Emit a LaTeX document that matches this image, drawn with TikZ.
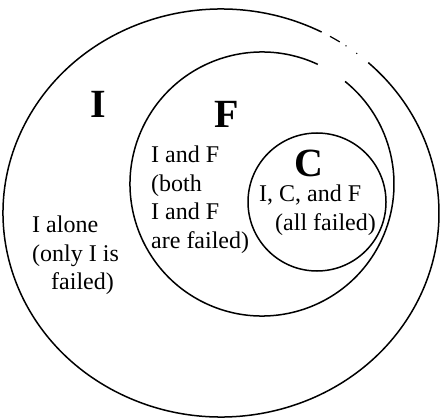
\documentclass[tikz,border=0pt]{standalone}
\usepackage{fontspec}
\setmainfont{Liberation Serif}

\tikzset{
  ring/.style={thick, black, line width=1.5pt},
  setlabel/.style={font=\fontsize{40}{44}\selectfont\bfseries, inner sep=0pt},
  region/.style={font=\fontsize{24}{28.5}\selectfont, align=left, inner sep=0pt, anchor=north west}
}

\begin{document}
\begin{tikzpicture}[x=1pt, y=1pt]
    \useasboundingbox (0,0) rectangle (441,418);

    % outer set I (broken at top right)
    \draw[ring] (221,205) ++(62.5:218 and 204) arc[start angle=62.5, end angle=407.5, x radius=218, y radius=204];
    \draw[black, line width=1.2pt] (221,205) ++(60:218 and 204) arc[start angle=60, end angle=57, x radius=218, y radius=204];
    \fill[black] (221,205) ++(55:218 and 204) circle (0.8pt);
    \fill[black] (221,205) ++(51.5:218 and 204) circle (0.8pt);

    % set F (gap at top right)
    \draw[ring] (262,234) ++(65:132) arc[start angle=65, end angle=411, radius=132];

    % set C
    \draw[ring] (317,216) circle (69);

    \node[setlabel] (labI) at (98,314) {I};
    \node[setlabel] (labF) at (227,304) {F};
    \node[setlabel] (labC) at (309,255) {C};

    \node[region] (onlyI) at (32,202) {I alone\\(only I is\\\hspace*{19pt}failed)};
    \node[region] (IandF) at (151,272) {I and F\\(both\\I and F\\are failed)};
    \node[region] (allC) at (259,233) {I, C, and F\\\hspace*{16pt}(all failed)};
\end{tikzpicture}
\end{document}
